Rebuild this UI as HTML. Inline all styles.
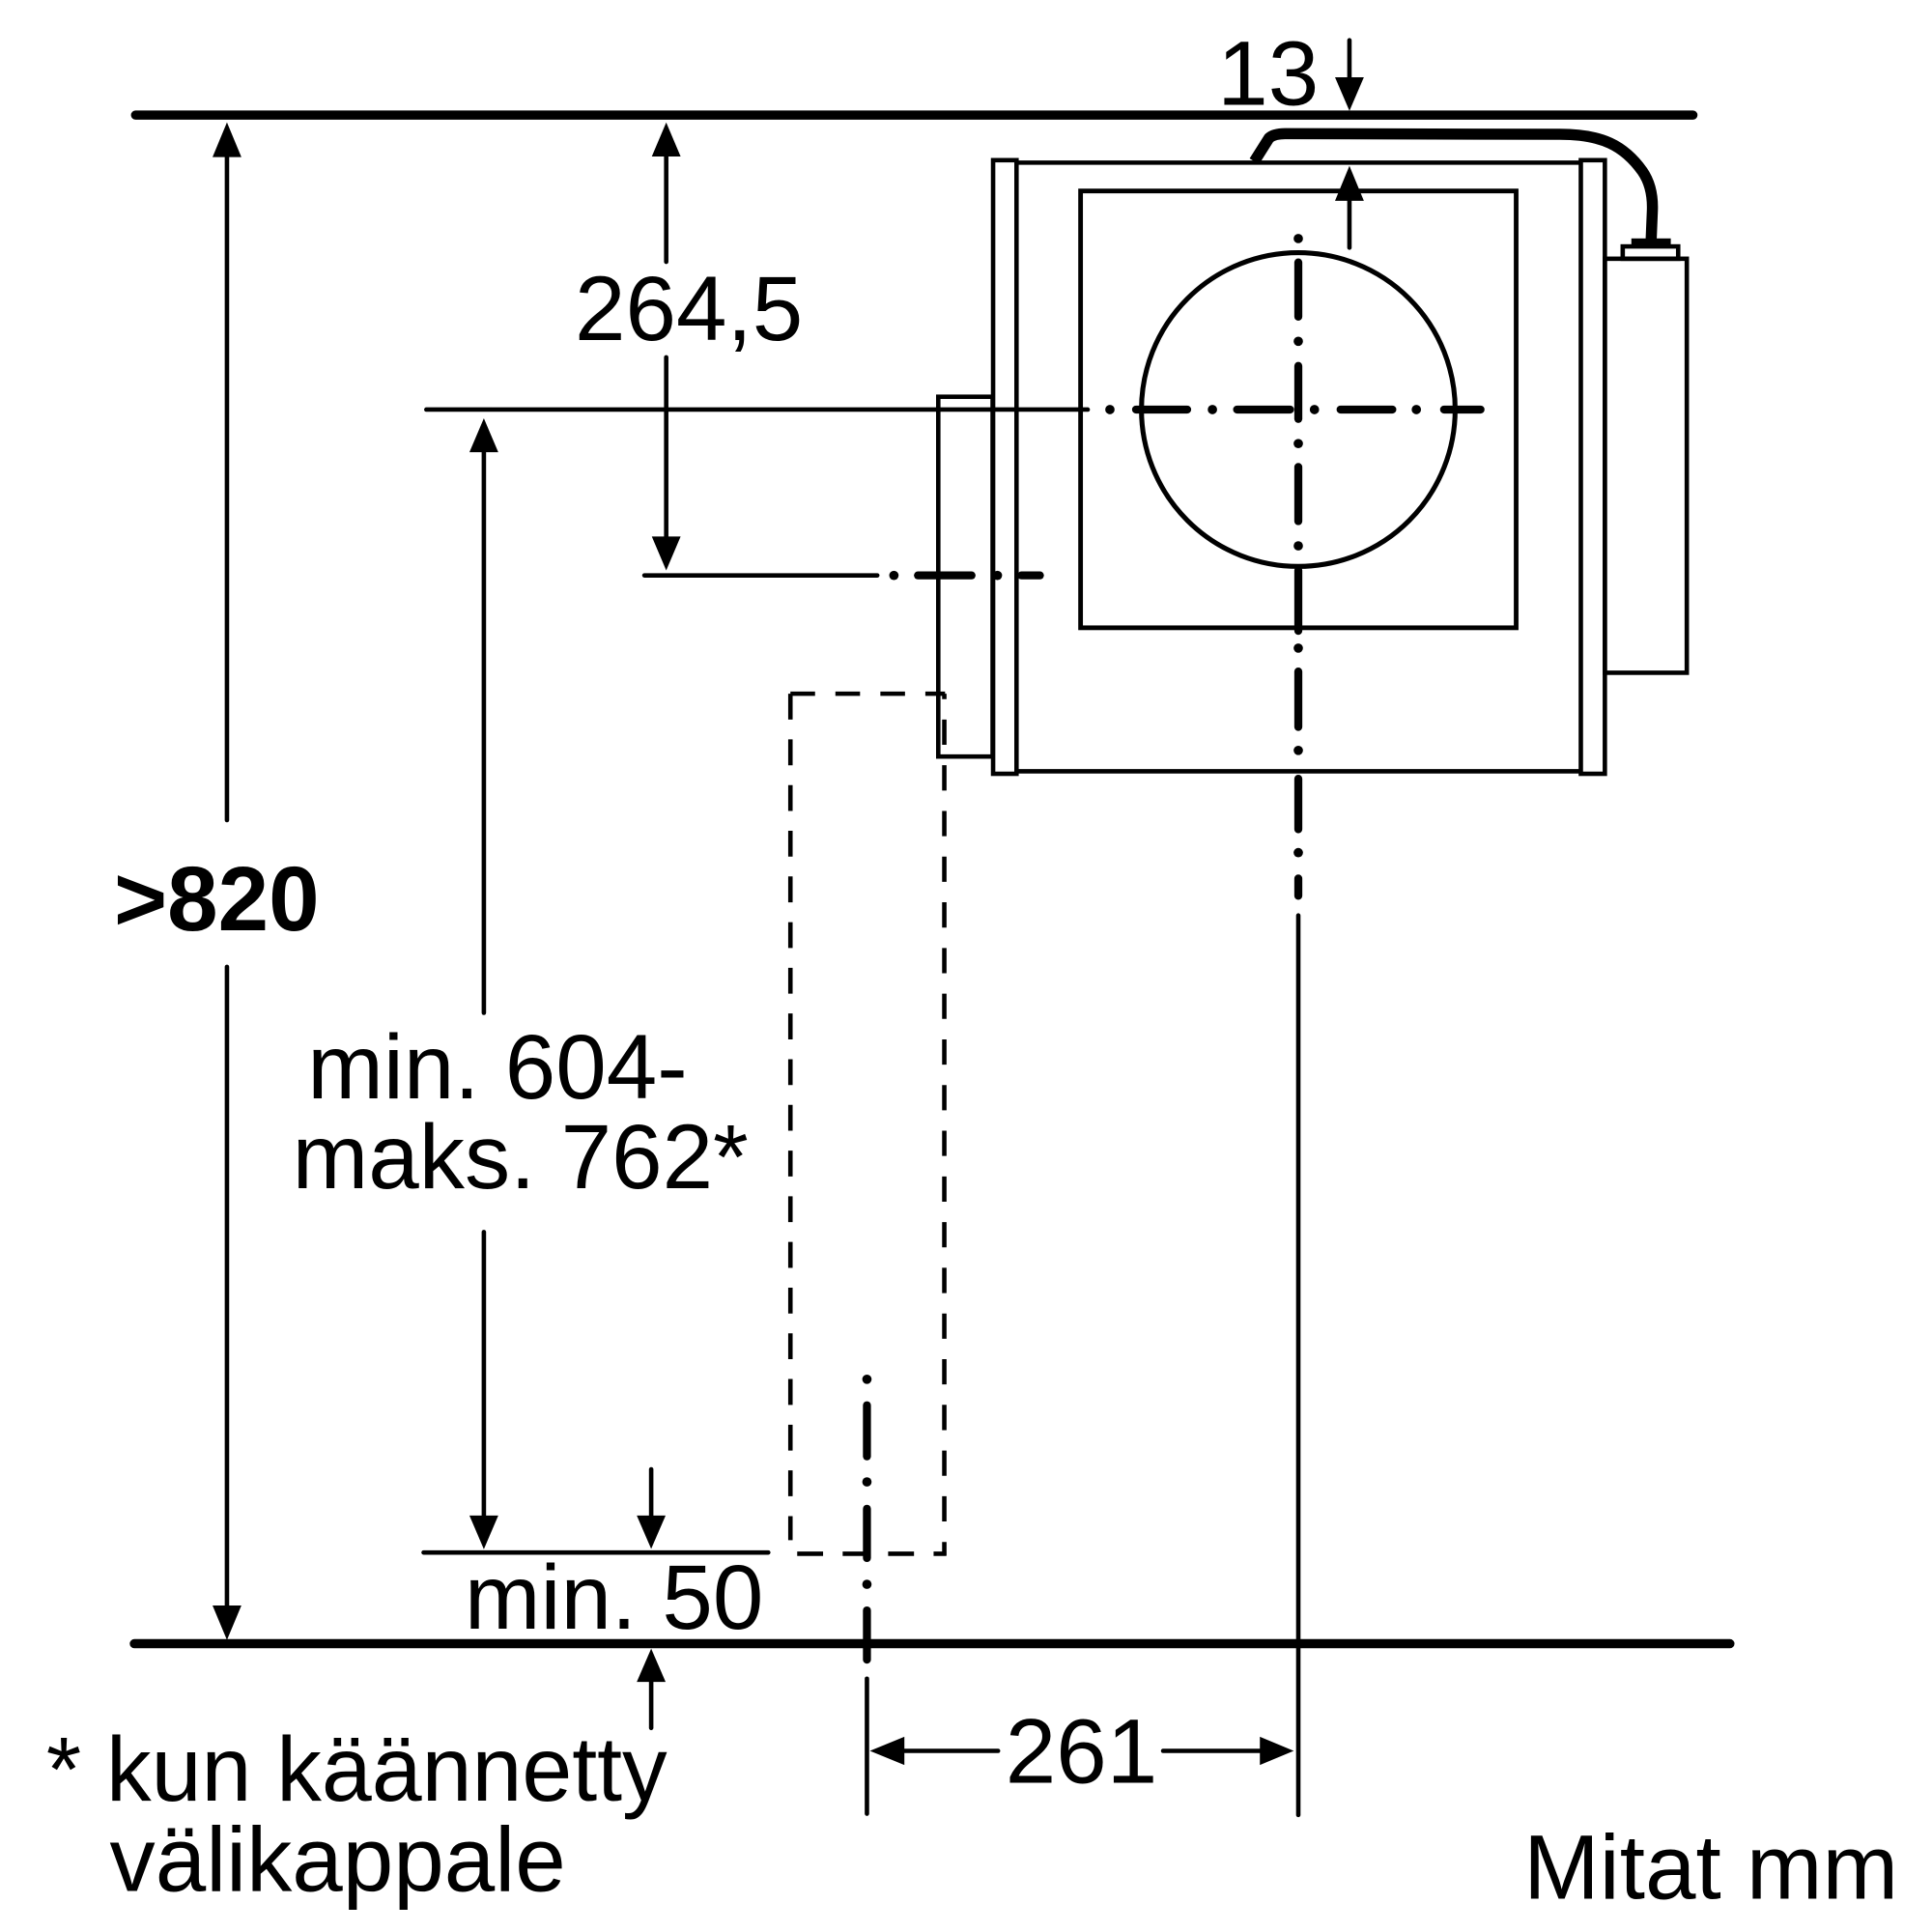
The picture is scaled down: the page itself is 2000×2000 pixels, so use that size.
<!DOCTYPE html>
<html>
<head>
<meta charset="utf-8">
<style>
  html, body { margin: 0; padding: 0; background: #fff; }
  svg { display: block; }
  text { font-family: "Liberation Sans", Arial, sans-serif; fill: #000; }
</style>
</head>
<body>
<svg xmlns="http://www.w3.org/2000/svg" width="2000" height="2000" viewBox="0 0 1568 1568">
  <rect x="0" y="0" width="1568" height="1568" fill="#fff"/>

  <!-- Main horizontal reference lines -->
  <g stroke="#000" stroke-linecap="round" fill="none">
    <line x1="110" y1="93.4" x2="1374" y2="93.4" stroke-width="7.4"/>
    <line x1="109" y1="1334" x2="1404" y2="1334" stroke-width="7.4"/>
  </g>

  <!-- Thin solid lines -->
  <g stroke="#000" stroke-width="3.6" stroke-linecap="round" fill="none">
    <line x1="346" y1="332.4" x2="882.8" y2="332.4"/>
    <line x1="523" y1="467" x2="712" y2="467"/>
    <line x1="343.8" y1="1260" x2="623.5" y2="1260"/>

    <line x1="184.2" y1="120" x2="184.2" y2="665.6"/>
    <line x1="184.2" y1="784.7" x2="184.2" y2="1310"/>

    <line x1="392.7" y1="360" x2="392.7" y2="822"/>
    <line x1="392.7" y1="999.9" x2="392.7" y2="1236"/>

    <line x1="540.7" y1="120" x2="540.7" y2="212.5"/>
    <line x1="540.7" y1="290" x2="540.7" y2="440"/>

    <line x1="1095.2" y1="32.7" x2="1095.2" y2="66"/>
    <line x1="1095.2" y1="158" x2="1095.2" y2="201"/>

    <line x1="528.5" y1="1192.5" x2="528.5" y2="1236"/>
    <line x1="528.5" y1="1360" x2="528.5" y2="1402.4"/>

    <line x1="703.6" y1="1362.4" x2="703.6" y2="1472"/>
    <line x1="1053.7" y1="743" x2="1053.7" y2="1473"/>
    <line x1="728" y1="1421" x2="810" y2="1421"/>
    <line x1="944" y1="1421" x2="1028" y2="1421"/>
  </g>

  <!-- Housing -->
  <g stroke="#000" stroke-width="3.6" fill="none" stroke-linejoin="miter">
    <rect x="761.5" y="322" width="44.1" height="292"/>
    <rect x="806" y="130" width="19" height="498"/>
    <rect x="1283" y="130" width="19.5" height="498"/>
    <line x1="825" y1="132" x2="1283" y2="132"/>
    <line x1="825" y1="626" x2="1283" y2="626"/>
    <rect x="877" y="155" width="353.5" height="354.5" stroke-width="3.8"/>
    <rect x="1302.5" y="210" width="66.5" height="336"/>
    <rect x="1317" y="200" width="45" height="10"/>
  </g>
  <rect x="1324" y="193.5" width="32" height="6" fill="#000"/>

  <!-- Circle -->
  <circle cx="1053.7" cy="332.4" r="127.3" fill="none" stroke="#000" stroke-width="4"/>

  <!-- Cable -->
  <path d="M 1018 131 L 1030 112 Q 1034 108.5 1043 108.5 L 1266 109 C 1300 109 1318 118 1333 139 Q 1342 152 1341 172 L 1340 196"
        fill="none" stroke="#000" stroke-width="9" stroke-linejoin="round" stroke-linecap="butt"/>

  <!-- Dash-dot centerlines: dashes -->
  <g stroke="#000" stroke-width="6.5" stroke-linecap="round" fill="none">
    <line x1="1053.7" y1="213" x2="1053.7" y2="257"/>
    <line x1="1053.7" y1="297" x2="1053.7" y2="340"/>
    <line x1="1053.7" y1="379" x2="1053.7" y2="423"/>
    <line x1="1053.7" y1="463" x2="1053.7" y2="512"/>
    <line x1="1053.7" y1="545" x2="1053.7" y2="590"/>
    <line x1="1053.7" y1="632" x2="1053.7" y2="673"/>
    <line x1="1053.7" y1="713" x2="1053.7" y2="727"/>
    <line x1="922" y1="332.4" x2="963.5" y2="332.4"/>
    <line x1="1004" y1="332.4" x2="1047" y2="332.4"/>
    <line x1="1088" y1="332.4" x2="1130" y2="332.4"/>
    <line x1="1172" y1="332.4" x2="1201.6" y2="332.4"/>
    <line x1="745" y1="467" x2="788.5" y2="467"/>
    <line x1="829" y1="467" x2="844" y2="467"/>
    <line x1="703.6" y1="1140.5" x2="703.6" y2="1182"/>
    <line x1="703.6" y1="1224.5" x2="703.6" y2="1264.5"/>
    <line x1="703.6" y1="1307" x2="703.6" y2="1347"/>
  </g>
  <!-- Dash-dot centerlines: dots -->
  <g fill="#000">
    <circle cx="1053.7" cy="193.6" r="3.8"/>
    <circle cx="1053.7" cy="277" r="3.8"/>
    <circle cx="1053.7" cy="360" r="3.8"/>
    <circle cx="1053.7" cy="443" r="3.8"/>
    <circle cx="1053.7" cy="526" r="3.8"/>
    <circle cx="1053.7" cy="609" r="3.8"/>
    <circle cx="1053.7" cy="692" r="3.8"/>
    <circle cx="900.8" cy="332.4" r="3.8"/>
    <circle cx="984" cy="332.4" r="3.8"/>
    <circle cx="1066.8" cy="332.4" r="3.8"/>
    <circle cx="1149.5" cy="332.4" r="3.8"/>
    <circle cx="725.5" cy="467" r="3.8"/>
    <circle cx="809.5" cy="467" r="3.8"/>
    <circle cx="703.6" cy="1119.4" r="3.8"/>
    <circle cx="703.6" cy="1202.7" r="3.8"/>
    <circle cx="703.6" cy="1285.8" r="3.8"/>
  </g>

  <!-- Dashed rotated spacer outline -->
  <g stroke="#000" stroke-width="3.6" fill="none" stroke-linecap="butt">
    <line x1="641.5" y1="563" x2="767" y2="563" stroke-dasharray="20 16.5"/>
    <line x1="641.5" y1="563" x2="641.5" y2="1250" stroke-dasharray="21 16.08"/>
    <line x1="766.4" y1="563" x2="766.4" y2="1262.5" stroke-dasharray="20.5 16.58" stroke-dashoffset="16.1"/>
    <line x1="647" y1="1261" x2="768" y2="1261" stroke-dasharray="21 15.9"/>
  </g>

  <!-- Arrowheads -->
  <g fill="#000">
    <polygon points="184.2,99.3 172.5,127.5 195.9,127.5"/>
    <polygon points="184.2,1331 172.5,1303 195.9,1303"/>
    <polygon points="392.7,339.5 381,367 404.4,367"/>
    <polygon points="392.7,1257.3 381,1230 404.4,1230"/>
    <polygon points="540.7,99.4 529,127 552.4,127"/>
    <polygon points="540.7,463 529,435.4 552.4,435.4"/>
    <polygon points="1095.2,90 1083.5,62.7 1106.9,62.7"/>
    <polygon points="1095.2,134.6 1083.5,163 1106.9,163"/>
    <polygon points="528.5,1257 516.8,1230 540.2,1230"/>
    <polygon points="528.5,1338 516.8,1365 540.2,1365"/>
    <polygon points="706,1421 734,1409.5 734,1432.5"/>
    <polygon points="1050,1421 1022.5,1409.5 1022.5,1432.5"/>
  </g>

  <!-- Labels -->
  <g font-size="74">
    <text x="988" y="85">13</text>
    <text x="466.5" y="275.8">264,5</text>
    <text x="92.5" y="755" font-weight="bold">&gt;820</text>
    <text x="249.5" y="891.4">min. 604-</text>
    <text x="237.3" y="964.2">maks. 762*</text>
    <text x="377" y="1322">min. 50</text>
    <text x="816" y="1447">261</text>
    <text x="37.5" y="1461.4" textLength="504" lengthAdjust="spacingAndGlyphs">* kun käännetty</text>
    <text x="89" y="1534.5">välikappale</text>
    <text x="1236.5" y="1541">Mitat mm</text>
  </g>
</svg>
</body>
</html>
